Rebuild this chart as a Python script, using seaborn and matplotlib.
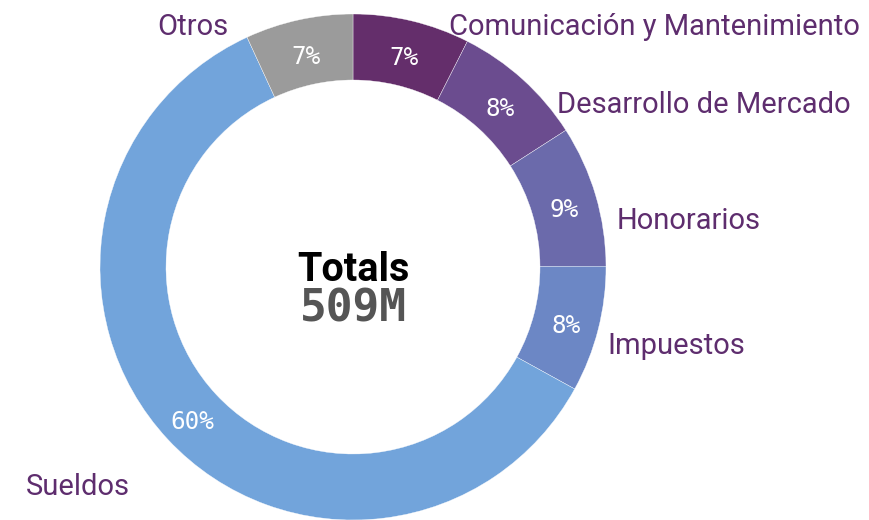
import matplotlib
matplotlib.use("Agg")
import matplotlib.pyplot as plt
import seaborn as sns
import numpy as np

# ---- data ----
categories = ["Comunicación y Mantenimiento", "Desarrollo de Mercado", "Honorarios",
              "Impuestos", "Sueldos", "Otros"]
values_m = [38, 43, 46, 41, 306, 35]          # millions
center_title = "Totals"
center_value = "509M"

# ---- style ----
sns.set_theme(style="white")
plt.rcParams["font.family"] = ["Roboto", "DejaVu Sans"]
colors = sns.color_palette(["#642e6b", "#6b4c8f", "#6b6aab", "#6c87c5", "#72a4db", "#9b9b9b"])
label_color = "#5e2d6e"

W, H = 869, 520
fig = plt.figure(figsize=(W / 100, H / 100), dpi=100)
ax = fig.add_axes([0, 0, 1, 1])

cx, cy = 353, H - 267
R_out, ring = 253, 66

wedges, _ = ax.pie(values_m, colors=colors, startangle=90, counterclock=False,
                   radius=R_out, center=(cx, cy),
                   wedgeprops=dict(width=ring, edgecolor="white", linewidth=0.25))
ax.set_xlim(0, W)
ax.set_ylim(0, H)
ax.set_aspect("equal")
ax.axis("off")

total = sum(values_m)
pcts = [v / total * 100 for v in values_m]

# percentage labels at mid-ring
r_mid = R_out - ring / 2
for w, p in zip(wedges, pcts):
    ang = np.deg2rad((w.theta1 + w.theta2) / 2)
    x = cx + r_mid * np.cos(ang)
    y = cy + r_mid * np.sin(ang) - 5
    ax.text(x, y, f"{p:.0f}%", ha="center", va="center", color="white",
            fontsize=17.5, family=["DejaVu Sans Mono"])

# outside category labels (image pixel anchors)
label_anchor = [(449, 27, "left"), (557, 105, "left"), (617, 221, "left"),
                (607, 346, "left"), (130, 487, "right"), (228, 27, "right")]
for name, (lx, ly, ha) in zip(categories, label_anchor):
    ax.text(lx, H - ly, name, ha=ha, va="center", color=label_color, fontsize=21)

ax.text(cx, H - 270, center_title, ha="center", va="center", color="black",
        fontsize=28.5, fontweight="bold")
ax.text(cx, H - 309, center_value, ha="center", va="center", color="#555555",
        fontsize=32, fontweight="bold", family=["DejaVu Sans Mono"])

fig.savefig("out.png", dpi=100, facecolor="white")
